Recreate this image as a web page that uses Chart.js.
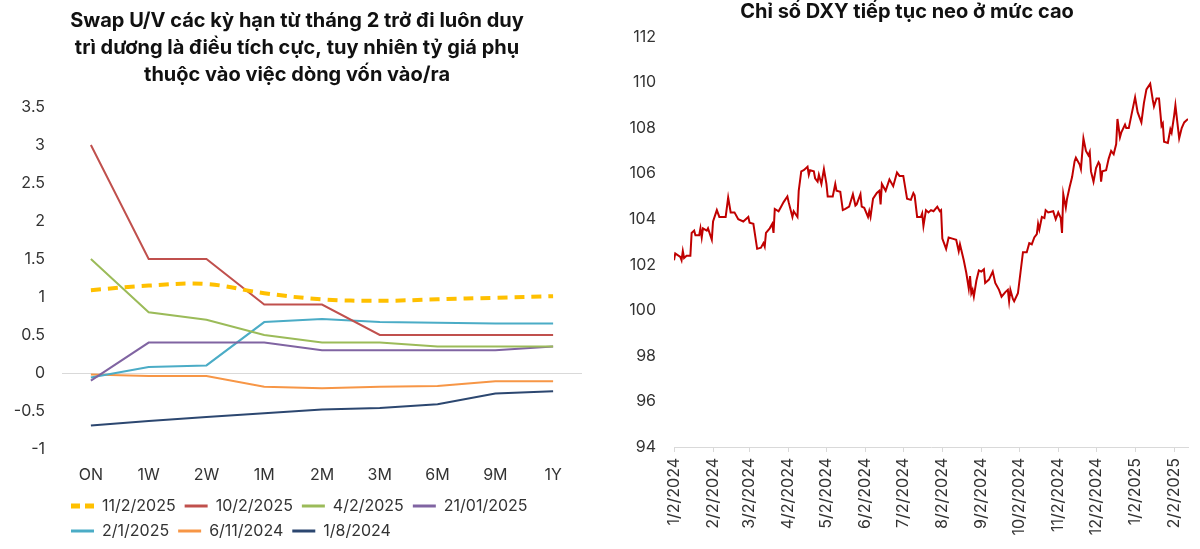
<!DOCTYPE html>
<html>
<head>
    <script src="https://cdn.jsdelivr.net/npm/chart.js@4.4.1/dist/chart.umd.min.js"></script>
    <style>
        body {
            margin: 0;
            background: white;
            font-family: Inter, "Noto Sans", sans-serif;
        }
        .panel {
            position: absolute;
            top: 0;
            width: 600px;
            height: 549px;
        }
        #left { left: 0; }
        #right { left: 600px; }
    </style>
</head>
<body>
    <div class="panel" id="left"><canvas id="swapChart"></canvas></div>
    <div class="panel" id="right"><canvas id="dxyChart"></canvas></div>

    <script>
        // --- Swap U/V theo kỳ hạn ---
        const tenors = ['ON', '1W', '2W', '1M', '2M', '3M', '6M', '9M', '1Y'];
        const swap_11_02_2025 = [1.09, 1.15, 1.17, 1.05, 0.97, 0.95, 0.97, 0.99, 1.01];
        const swap_10_02_2025 = [3.0, 1.5, 1.5, 0.9, 0.9, 0.5, 0.5, 0.5, 0.5];
        const swap_04_02_2025 = [1.5, 0.8, 0.7, 0.5, 0.4, 0.4, 0.35, 0.35, 0.35];
        const swap_21_01_2025 = [-0.1, 0.4, 0.4, 0.4, 0.3, 0.3, 0.3, 0.3, 0.35];
        const swap_02_01_2025 = [-0.06, 0.08, 0.1, 0.67, 0.71, 0.67, 0.66, 0.65, 0.65];
        const swap_06_11_2024 = [-0.02, -0.04, -0.04, -0.18, -0.2, -0.18, -0.17, -0.11, -0.11];
        const swap_01_08_2024 = [-0.69, -0.63, -0.58, -0.53, -0.48, -0.46, -0.41, -0.27, -0.24];

        // --- DXY: ngày tính từ 1/2/2024 và giá trị ---
        const dxyStart = '1/2/2024';
        const dxyDays = [0, 1, 5, 6, 7, 8, 10, 13, 14, 16, 17, 20, 21, 22, 23, 26, 27, 30, 31, 34,
            36, 41, 43, 45, 48, 51, 55, 59, 60, 63, 66, 69, 71, 72, 73, 76, 78, 79, 80, 83,
            85, 87, 90, 91, 94, 95, 98, 99, 101, 103, 106, 107, 108, 111, 112, 114, 115, 117, 119, 121,
            122, 126, 128, 129, 132, 134, 136, 139, 142, 144, 145, 148, 149, 151, 154, 155, 156, 158, 161, 163,
            164, 165, 168, 171, 174, 177, 179, 182, 185, 188, 190, 191, 193, 196, 197, 198, 200, 202, 204, 206,
            209, 211, 212, 213, 216, 218, 221, 224, 226, 227, 230, 232, 234, 235, 236, 237, 238, 240, 242, 244,
            246, 247, 250, 253, 255, 258, 260, 263, 265, 266, 267, 269, 270, 273, 275, 277, 280, 282, 284, 286,
            288, 289, 290, 292, 294, 295, 297, 301, 303, 305, 307, 308, 309, 311, 312, 314, 316, 318, 319, 322,
            323, 325, 327, 329, 330, 331, 333, 335, 337, 338, 339, 340, 343, 345, 347, 349, 351, 352, 354, 355,
            358, 359, 361, 363, 366, 368, 371, 373, 375, 378, 380, 381, 383, 385, 387, 388, 389, 392, 394, 395,
            397, 398, 401, 403, 405, 408];
        const dxyValues = [102.2, 102.5, 102.35, 102.2, 102.6, 102.3, 102.4, 102.4, 103.4, 103.5, 103.3, 103.3, 103.6, 103.2, 103.6, 103.5, 103.6, 103.1, 103.9, 104.4,
            104.1, 104.1, 104.95, 104.3, 104.3, 104.0, 103.9, 104.1, 103.85, 103.8, 102.7, 102.75, 102.95, 102.8, 103.4, 103.6, 103.8, 103.4, 104.45, 104.35,
            104.55, 104.75, 105.0, 104.75, 104.1, 104.35, 104.1, 105.25, 106.1, 106.15, 106.3, 105.95, 106.15, 106.1, 105.8, 105.65, 105.95, 105.55, 106.2, 105.55,
            105.0, 105.0, 105.55, 105.25, 105.2, 104.4, 104.45, 104.55, 105.1, 104.6, 104.65, 105.1, 104.55, 104.5, 104.1, 104.35, 104.1, 104.9, 105.15, 105.25,
            104.65, 105.55, 105.25, 105.75, 105.45, 106.05, 105.9, 105.9, 104.9, 104.85, 105.15, 105.05, 104.1, 104.1, 104.25, 103.7, 104.4, 104.3, 104.4, 104.35,
            104.55, 104.35, 104.4, 103.15, 102.7, 103.2, 103.15, 103.1, 102.6, 102.9, 102.2, 101.65, 100.95, 101.5, 100.75, 100.9, 100.6, 101.3, 101.75, 101.7,
            101.8, 101.2, 101.35, 101.7, 101.2, 100.9, 100.6, 100.8, 100.9, 100.4, 100.9, 100.5, 100.4, 100.75, 101.65, 102.55, 102.55, 102.95, 102.9, 103.2,
            103.35, 103.8, 103.55, 104.1, 104.05, 104.4, 104.3, 104.35, 104.0, 104.3, 104.05, 103.4, 105.1, 104.5, 104.9, 105.4, 105.85, 106.55, 106.7, 106.4,
            106.2, 107.55, 107.0, 106.8, 106.95, 106.1, 105.65, 106.25, 106.5, 106.4, 105.65, 106.1, 106.15, 106.65, 107.0, 106.85, 107.3, 108.4, 107.6, 107.8,
            108.15, 108.0, 108.0, 108.55, 109.35, 108.7, 108.25, 109.1, 109.7, 109.95, 109.25, 108.95, 109.3, 109.3, 108.1, 108.2, 107.4, 107.35, 107.95, 107.8,
            108.55, 109.0, 107.55, 108.0, 108.25, 108.4];
        const dxyTickLabels = ['1/2/2024', '2/2/2024', '3/2/2024', '4/2/2024', '5/2/2024', '6/2/2024', '7/2/2024',
            '8/2/2024', '9/2/2024', '10/2/2024', '11/2/2024', '12/2/2024', '1/2/2025', '2/2/2025'];

        const textColor = '#333333';
        const baseFont = 'Inter, "Noto Sans", sans-serif';
        Chart.defaults.font.family = baseFont;
        Chart.defaults.color = textColor;

        // m/d/yyyy -> số ngày kể từ dxyStart
        function dayOffset(label) {
            const p = label.split('/').map(Number);
            const s = dxyStart.split('/').map(Number);
            return Math.round((Date.UTC(p[2], p[0] - 1, p[1]) - Date.UTC(s[2], s[0] - 1, s[1])) / 86400000);
        }
        const dxyTickDays = dxyTickLabels.map(dayOffset);

        function series(label, values, color, extra) {
            return Object.assign({
                label: label,
                data: values,
                borderColor: color,
                backgroundColor: color,
                borderWidth: 2,
                pointRadius: 0,
                tension: 0,
                fill: false
            }, extra || {});
        }

        new Chart(document.getElementById('swapChart'), {
            type: 'line',
            data: {
                labels: tenors,
                datasets: [
                    series('11/2/2025', swap_11_02_2025, '#FFC000', { borderWidth: 4, borderDash: [10, 7], tension: 0.4 }),
                    series('10/2/2025', swap_10_02_2025, '#C0504D'),
                    series('4/2/2025', swap_04_02_2025, '#9BBB59'),
                    series('21/01/2025', swap_21_01_2025, '#8064A2'),
                    series('2/1/2025', swap_02_01_2025, '#4BACC6'),
                    series('6/11/2024', swap_06_11_2024, '#F79646'),
                    series('1/8/2024', swap_01_08_2024, '#2C4770')
                ]
            },
            options: {
                responsive: true,
                maintainAspectRatio: false,
                animation: false,
                layout: { padding: { left: 12, right: 18, top: 0, bottom: 0 } },
                scales: {
                    x: {
                        offset: true,
                        grid: { display: false, drawTicks: false },
                        border: { display: false },
                        ticks: { font: { size: 16 }, color: textColor, padding: 17 },
                        afterFit: s => { s.height = 40; }
                    },
                    y: {
                        min: -1,
                        max: 3.5,
                        ticks: {
                            stepSize: 0.5,
                            font: { size: 16 },
                            color: textColor,
                            padding: 17,
                            callback: v => String(Math.round(v * 10) / 10)
                        },
                        grid: {
                            drawTicks: false,
                            color: ctx => (ctx.tick && ctx.tick.value === 0 ? '#d9d9d9' : 'rgba(0,0,0,0)')
                        },
                        border: { display: false },
                        afterFit: s => { s.width = 50; }
                    }
                },
                plugins: {
                    title: {
                        display: true,
                        text: ['Swap U/V các kỳ hạn từ tháng 2 trở đi luôn duy',
                               'trì dương là điều tích cực, tuy nhiên tỷ giá phụ',
                               'thuộc vào việc dòng vốn vào/ra'],
                        color: '#111111',
                        font: { size: 20, weight: 'bold', lineHeight: 1.35 },
                        padding: { top: 7, bottom: 19 }
                    },
                    legend: {
                        position: 'bottom',
                        align: 'start',
                        fullSize: false,
                        labels: {
                            usePointStyle: true,
                            pointStyle: 'line',
                            pointStyleWidth: 23,
                            font: { size: 16 },
                            color: textColor,
                            padding: 9,
                            generateLabels: chart => {
                                const items = Chart.defaults.plugins.legend.labels.generateLabels(chart);
                                items.forEach(item => {
                                    const ds = chart.data.datasets[item.datasetIndex];
                                    item.lineWidth = ds.borderWidth + 1;
                                    item.lineDash = ds.borderDash ? [9, 5] : [];
                                    item.strokeStyle = ds.borderColor;
                                });
                                return items;
                            }
                        }
                    },
                    tooltip: { enabled: false }
                }
            }
        });

        new Chart(document.getElementById('dxyChart'), {
            type: 'line',
            data: {
                datasets: [{
                    label: 'DXY',
                    data: dxyDays.map((d, i) => ({ x: d, y: dxyValues[i] })),
                    borderColor: '#C00000',
                    borderWidth: 2,
                    pointRadius: 0,
                    tension: 0,
                    fill: false
                }]
            },
            options: {
                responsive: true,
                maintainAspectRatio: false,
                animation: false,
                layout: { padding: { left: 26, right: 12, top: 0, bottom: 0 } },
                scales: {
                    x: {
                        type: 'linear',
                        min: 0,
                        max: dxyDays[dxyDays.length - 1],
                        afterBuildTicks: s => { s.ticks = dxyTickDays.map(v => ({ value: v })); },
                        ticks: {
                            autoSkip: false,
                            maxRotation: 90,
                            minRotation: 90,
                            font: { size: 16 },
                            color: textColor,
                            padding: 6,
                            callback: (v, i) => dxyTickLabels[i]
                        },
                        grid: { drawOnChartArea: false, drawTicks: true, tickLength: 5, color: '#d9d9d9' },
                        border: { display: true, color: '#d9d9d9' },
                        afterFit: s => { s.height = 102; }
                    },
                    y: {
                        min: 94,
                        max: 112,
                        ticks: { stepSize: 2, font: { size: 16 }, color: textColor, padding: 18 },
                        grid: { display: false, drawTicks: false },
                        border: { display: false },
                        afterFit: s => { s.width = 48; }
                    }
                },
                plugins: {
                    title: {
                        display: true,
                        text: 'Chỉ số DXY tiếp tục neo ở mức cao',
                        color: '#111111',
                        font: { size: 20, weight: 'bold', lineHeight: 1.2 },
                        padding: { top: 0, bottom: 13 }
                    },
                    legend: { display: false },
                    tooltip: { enabled: false }
                }
            }
        });
    </script>
</body>
</html>
